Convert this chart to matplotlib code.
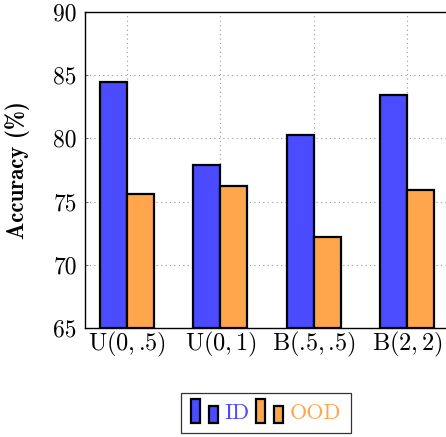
import matplotlib
matplotlib.use("Agg")
import matplotlib.pyplot as plt
import numpy as np
from matplotlib.legend_handler import HandlerBase
from matplotlib.patches import Rectangle, Patch

categories = [r"U(0,$\,$.5)", r"U(0,$\,$1)", r"B(.5,$\,$.5)", r"B(2,$\,$2)"]
id_vals = [84.5, 77.9, 80.3, 83.4]
ood_vals = [75.6, 76.2, 72.2, 75.9]
yticks = [65, 70, 75, 80, 85, 90]

blue = "#4B4BFF"
orange = "#FFA64D"

plt.rcParams["font.family"] = ["cmr10", "DejaVu Serif"]
plt.rcParams["mathtext.fontset"] = "cm"
plt.rcParams["axes.unicode_minus"] = False

fig = plt.figure(figsize=(4.46, 4.37), dpi=100)
ax = fig.add_axes([85/446, 109/437, (449-85)/446, 316/437])

x = np.arange(len(categories))
w = 0.29
ax.bar(x - w/2, np.array(id_vals) - 65, w, bottom=65, color=blue, edgecolor="black", linewidth=1.6, zorder=3)
ax.bar(x + w/2, np.array(ood_vals) - 65, w, bottom=65, color=orange, edgecolor="black", linewidth=1.6, zorder=3)

ax.set_xlim(-0.45, 3.45)
ax.set_ylim(65, 90)
ax.set_yticks(yticks)
ax.set_yticklabels([str(v) for v in yticks], fontsize=17)
ax.set_xticks(x)
ax.set_xticklabels(categories, fontsize=17.5)
ax.tick_params(axis="y", length=2.5, direction="in", width=0.6, pad=6, color="#555555")
ax.tick_params(axis="x", length=0, pad=1)
ax.grid(True, linestyle=(0, (1, 3)), color="#999999", linewidth=0.8, zorder=0)
ax.set_axisbelow(True)
for s in ["left", "top", "bottom"]:
    ax.spines[s].set_linewidth(1.0)
ax.spines["right"].set_visible(False)
ax.set_ylabel("Accuracy (%)", fontsize=16.5, family=["cmb10", "DejaVu Serif"], labelpad=17)


class TwoBars(HandlerBase):
    def __init__(self, color):
        super().__init__()
        self.color = color

    def create_artists(self, legend, orig_handle, xdescent, ydescent, width, height, fontsize, trans):
        bw = width * 0.3
        r1 = Rectangle((-xdescent, -ydescent - 3), bw, height + 6, facecolor=self.color,
                       edgecolor="black", linewidth=1.6, transform=trans)
        r2 = Rectangle((-xdescent + width * 0.62, -ydescent - 3), bw, height + 1, facecolor=self.color,
                       edgecolor="black", linewidth=1.6, transform=trans)
        return [r1, r2]


h1 = Patch(color=blue)
h2 = Patch(color=orange)
leg = fig.legend([h1, h2], ["ID", "OOD"], loc="center", bbox_to_anchor=(266/446, 1 - 413/437),
                 ncol=2, handler_map={h1: TwoBars(blue), h2: TwoBars(orange)},
                 fontsize=16, frameon=True, fancybox=False, edgecolor="black",
                 handlelength=1.3, handletextpad=0.2, columnspacing=0.3, borderpad=0.45)
leg.get_frame().set_linewidth(0.9)
for t, c in zip(leg.get_texts(), [blue, orange]):
    t.set_color(c)

fig.savefig("out.png", dpi=100)
